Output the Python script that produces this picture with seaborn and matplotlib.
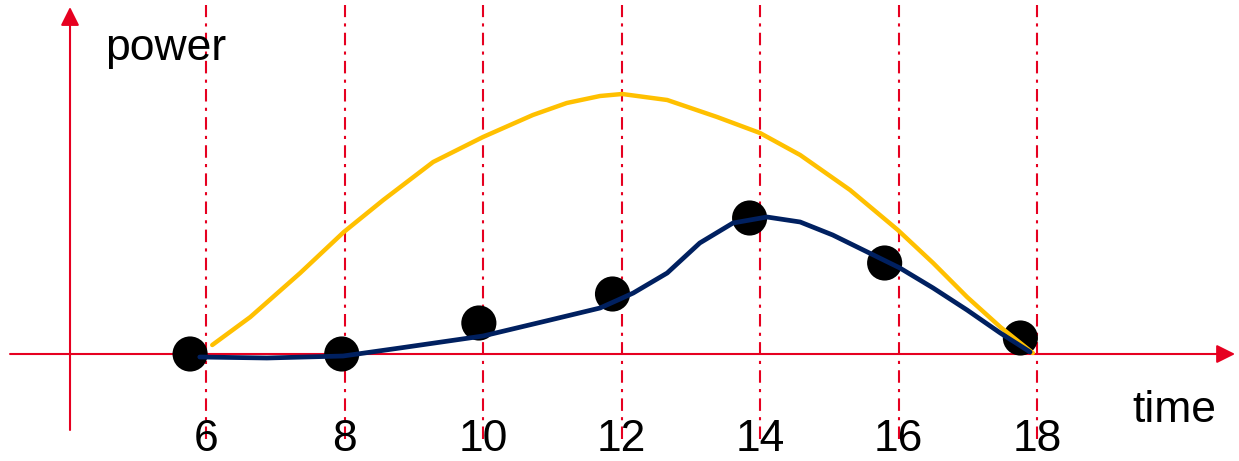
import numpy as np
import pandas as pd
import matplotlib
matplotlib.use('Agg')
import matplotlib.pyplot as plt
import seaborn as sns

# time ticks
ticks = [6, 8, 10, 12, 14, 16, 18]

# measured points (black dots)
dot_time = [5.77, 7.96, 9.94, 11.87, 13.85, 15.80, 17.76]
dot_power = [0.00, 0.00, 0.31, 0.60, 1.36, 0.91, 0.16]

# fitted curve (navy)
fit_time = [5.91, 6.88, 7.98, 8.80, 10.00, 10.97, 11.69, 11.98, 12.17, 12.66, 13.13, 13.61,
            14.10, 14.58, 15.05, 15.55, 16.02, 16.50, 16.99, 17.47, 17.90]
fit_power = [-0.03, -0.04, -0.02, 0.06, 0.18, 0.34, 0.46, 0.55, 0.61, 0.81, 1.11, 1.31,
             1.37, 1.32, 1.19, 1.02, 0.86, 0.66, 0.44, 0.21, 0.02]

# upper curve (yellow)
top_time = [6.09, 6.64, 7.36, 7.99, 8.56, 9.28, 10.00, 10.72, 11.21, 11.69, 12.01, 12.66,
            13.38, 14.00, 14.58, 15.30, 15.99, 16.50, 16.99, 17.47, 17.94]
top_power = [0.09, 0.37, 0.81, 1.22, 1.54, 1.92, 2.17, 2.39, 2.51, 2.58, 2.60, 2.54,
             2.37, 2.21, 1.99, 1.64, 1.24, 0.91, 0.57, 0.27, 0.01]

red = '#E60020'
yellow = '#FFC000'
navy = '#002060'

sns.set_style('white')
plt.rcParams['font.family'] = ['Liberation Sans', 'DejaVu Sans']
plt.rcParams['text.color'] = 'black'

fig = plt.figure(figsize=(12.39, 4.61), dpi=100)
ax = fig.add_axes([0, 0, 1, 1])
ax.axis('off')

# dash-dot guides
ax.vlines(ticks, -0.85, 3.49, color=red, lw=1.5, linestyle=(0, (6, 3, 1.5, 3)), zorder=1)

# axes with arrows
ax.annotate('', xy=(20.86, 0), xytext=(3.17, 0),
            arrowprops=dict(arrowstyle='-|>', color=red, lw=1.5, mutation_scale=28, shrinkA=0, shrinkB=0), zorder=2)
ax.annotate('', xy=(4.036, 3.47), xytext=(4.036, -0.76),
            arrowprops=dict(arrowstyle='-|>', color=red, lw=1.5, mutation_scale=28, shrinkA=0, shrinkB=0), zorder=2)

top = pd.DataFrame({'time': top_time, 'power': top_power})
fit = pd.DataFrame({'time': fit_time, 'power': fit_power})
dots = pd.DataFrame({'time': dot_time, 'power': dot_power})

sns.scatterplot(data=dots, x='time', y='power', s=640, color='black', edgecolor='none', ax=ax, zorder=3)
sns.lineplot(data=top, x='time', y='power', color=yellow, lw=3.2, ax=ax, zorder=4, sort=False)
sns.lineplot(data=fit, x='time', y='power', color=navy, lw=3.4, ax=ax, zorder=5, sort=False)

for t in ticks:
    ax.text(t, -0.85, str(t), fontsize=32, color='black', ha='center', va='center', zorder=6)
ax.text(5.42, 3.06, 'power', fontsize=32, color='black', ha='center', va='center')
ax.text(19.99, -0.56, 'time', fontsize=32, color='black', ha='center', va='center')

ax.set_xlim(3.025, 20.917)
ax.set_ylim(-1.07, 3.54)
fig.savefig('out.png', dpi=100)
